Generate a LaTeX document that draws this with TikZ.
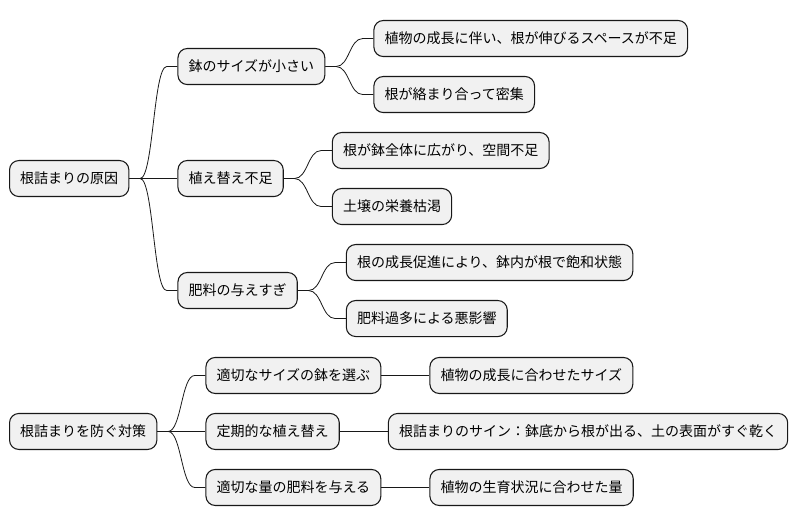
\documentclass[tikz,border=0pt]{standalone}
\usepackage{fontspec}
\setmainfont{Noto Sans CJK JP}
\usetikzlibrary{positioning}
\definecolor{boxfill}{HTML}{F1F1F1}
\definecolor{boxline}{HTML}{181818}
\begin{document}
\begin{tikzpicture}[%
    node distance=36pt,
    topic/.style={%
      rectangle,
      rounded corners=7pt,
      fill=boxfill,
      draw=boxline,
      line width=0.8pt,
      minimum height=27pt,
      inner xsep=8pt,
      font=\fontsize{10.5pt}{12pt}\selectfont
    },
    link/.style={%
      draw=boxline,
      line width=0.6pt,
      to path={(\tikztostart.east) -- ++(8pt,0)
        .. controls +(10pt,0) and +(-10pt,0) .. ([xshift=-8pt]\tikztotarget.west)
        -- (\tikztotarget.west)}
    }
  ]
    \useasboundingbox (0,0) rectangle (597pt,-395.25pt);

    % causes
    \node[topic,anchor=west] (cause) at (6.75pt,-133.9pt)      {根詰まりの原因};
    \node[topic] (pot)   [right=of cause,yshift=84pt]          {鉢のサイズが小さい};
    \node[topic] (pot1)  [right=of pot,yshift=21pt]            {植物の成長に伴い、根が伸びるスペースが不足};
    \node[topic] (pot2)  [right=of pot,yshift=-21pt]           {根が絡まり合って密集};
    \node[topic] (repot) [right=of cause]                      {植え替え不足};
    \node[topic] (repot1) [right=of repot,yshift=21pt]         {根が鉢全体に広がり、空間不足};
    \node[topic] (repot2) [right=of repot,yshift=-21pt]        {土壌の栄養枯渇};
    \node[topic] (fert)  [right=of cause,yshift=-84pt]         {肥料の与えすぎ};
    \node[topic] (fert1) [right=of fert,yshift=21pt]           {根の成長促進により、鉢内が根で飽和状態};
    \node[topic] (fert2) [right=of fert,yshift=-21pt]          {肥料過多による悪影響};

    % measures
    \node[topic,anchor=west] (plan) at (6.75pt,-323.6pt)       {根詰まりを防ぐ対策};
    \node[topic] (size)  [right=of plan,yshift=42pt]           {適切なサイズの鉢を選ぶ};
    \node[topic] (size1) [right=of size]                       {植物の成長に合わせたサイズ};
    \node[topic] (when)  [right=of plan]                       {定期的な植え替え};
    \node[topic] (when1) [right=of when]                       {根詰まりのサイン：鉢底から根が出る、土の表面がすぐ乾く};
    \node[topic] (dose)  [right=of plan,yshift=-42pt]          {適切な量の肥料を与える};
    \node[topic] (dose1) [right=of dose]                       {植物の生育状況に合わせた量};

    \path (cause) edge[link] (pot)
          (cause) edge[link] (repot)
          (cause) edge[link] (fert)
          (pot)   edge[link] (pot1)
          (pot)   edge[link] (pot2)
          (repot) edge[link] (repot1)
          (repot) edge[link] (repot2)
          (fert)  edge[link] (fert1)
          (fert)  edge[link] (fert2)
          (plan)  edge[link] (size)
          (plan)  edge[link] (when)
          (plan)  edge[link] (dose)
          (size)  edge[link] (size1)
          (when)  edge[link] (when1)
          (dose)  edge[link] (dose1);
\end{tikzpicture}
\end{document}
